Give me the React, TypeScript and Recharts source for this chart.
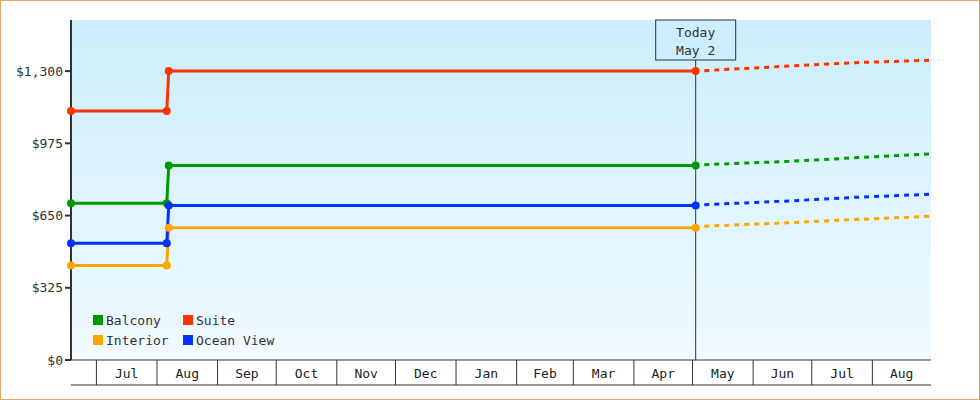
import React from 'react';
import { LineChart, Line, XAxis, YAxis, CartesianGrid, ReferenceLine, Legend } from 'recharts';

const FONT = '"DejaVu Sans Mono", monospace';

// Days are counted from Jul 1 (day 0); the chart runs from Jun 18 to Aug 31 of next year.
const domainDays = [-13, 427];

// Booked prices (solid lines)
const priceDays = [-13, 36, 37, 306.6];
const balconyPrices = [705, 705, 875, 875];
const suitePrices = [1120, 1120, 1300, 1300];
const interiorPrices = [425, 425, 595, 595];
const oceanViewPrices = [525, 525, 695, 695];

// Forecast prices (dashed lines)
const forecastDays = [311, 355, 388, 427];
const balconyForecast = [879, 894, 910, 927];
const suiteForecast = [1302, 1323, 1338, 1349];
const interiorForecast = [602, 618, 632, 647];
const oceanViewForecast = [699, 716, 732, 746];

// Month bands
const monthStarts = [0, 31, 62, 92, 123, 153, 184, 215, 244, 275, 305, 336, 366, 397];
const monthLabels = ['Jul', 'Aug', 'Sep', 'Oct', 'Nov', 'Dec', 'Jan', 'Feb', 'Mar', 'Apr', 'May', 'Jun', 'Jul', 'Aug'];

const todayDay = 306.6;
const todayLines = ['Today', 'May 2'];

const yTicks = [0, 325, 650, 975, 1300];
const yMax = 1530;

const seriesNames = ['Balcony', 'Suite', 'Interior', 'Ocean View'];
const seriesColors = ['#009900', '#ff3300', '#ffa500', '#0033ff'];
const seriesPrices = [balconyPrices, suitePrices, interiorPrices, oceanViewPrices];
const seriesForecasts = [balconyForecast, suiteForecast, interiorForecast, oceanViewForecast];

const monthMids = monthStarts.map((s, i) => (s + (i + 1 < monthStarts.length ? monthStarts[i + 1] : domainDays[1])) / 2);
const axisTicks = [...monthStarts, ...monthMids].sort((a, b) => a - b);

const series = seriesNames.map((name, i) => ({
  name,
  color: seriesColors[i],
  actual: priceDays.map((d, j) => ({ day: d, value: seriesPrices[i][j] })),
  forecast: forecastDays.map((d, j) => ({ day: d, value: seriesForecasts[i][j] })),
}));

const BAND_HEIGHT = 25;

const MonthTick = (props: any) => {
  const { x, y, payload } = props;
  const v = payload.value;
  if (monthStarts.includes(v)) {
    return <line x1={x} y1={y} x2={x} y2={y + BAND_HEIGHT} stroke="#333" strokeWidth={1} />;
  }
  const idx = monthMids.indexOf(v);
  return (
    <text x={x} y={y + 13} textAnchor="middle" dominantBaseline="central" fontFamily={FONT} fontSize={13} fill="#222">
      {idx >= 0 ? monthLabels[idx] : ''}
    </text>
  );
};

const TodayLabel = (props: any) => {
  const vb = props.viewBox || {};
  const x = vb.x ?? 0;
  const y0 = vb.y ?? 0;
  const top = Math.min(y0, y0 + (vb.height ?? 0));
  return (
    <g>
      <rect x={x - 40} y={top} width={80} height={40} fill="#cdeefc" stroke="#333" strokeWidth={1} />
      <text x={x} y={top + 12} textAnchor="middle" dominantBaseline="central" fontFamily={FONT} fontSize={13} fill="#333">
        {todayLines[0]}
      </text>
      <text x={x} y={top + 30} textAnchor="middle" dominantBaseline="central" fontFamily={FONT} fontSize={13} fill="#333">
        {todayLines[1]}
      </text>
    </g>
  );
};

const renderLegend = (props: any) => {
  const payload = (props.payload || []).filter((p: any) => seriesNames.includes(p.value));
  const ordered = seriesNames.map((n) => payload.find((p: any) => p.value === n)).filter(Boolean);
  return (
    <div style={{ position: 'relative', width: 200, height: 40, fontFamily: FONT, fontSize: 13 }}>
      {ordered.map((p: any, i: number) => (
        <div
          key={p.value}
          style={{
            position: 'absolute',
            left: (i % 2) * 90,
            top: Math.floor(i / 2) * 20,
            height: 16,
            display: 'flex',
            alignItems: 'center',
            whiteSpace: 'nowrap',
            color: '#333',
          }}
        >
          <span style={{ display: 'inline-block', width: 10, height: 10, background: p.color, marginRight: 3 }} />
          {p.value}
        </div>
      ))}
    </div>
  );
};

export default function App() {
  return (
    <div
      style={{
        position: 'absolute',
        left: 0,
        top: 0,
        width: 980,
        height: 400,
        boxSizing: 'border-box',
        border: '1px solid #e6a865',
        background: '#fff',
      }}
    >
      <LineChart width={978} height={398} margin={{ top: 19, right: 48, bottom: 0, left: 0 }}>
        <defs>
          <linearGradient id="plotBg" x1="0" y1="0" x2="0" y2="1">
            <stop offset="0%" stopColor="#cbeefc" />
            <stop offset="100%" stopColor="#f1faff" />
          </linearGradient>
        </defs>
        <CartesianGrid xAxisId="a" horizontal={false} vertical={false} fill="url(#plotBg)" />
        <XAxis
          xAxisId="b"
          type="number"
          dataKey="day"
          domain={domainDays}
          ticks={[]}
          tick={false}
          tickLine={false}
          axisLine={{ stroke: '#333', strokeWidth: 1 }}
          height={14}
        />
        <XAxis
          xAxisId="a"
          type="number"
          dataKey="day"
          domain={domainDays}
          ticks={axisTicks}
          interval={0}
          tick={<MonthTick />}
          tickSize={0}
          tickMargin={0}
          tickLine={false}
          axisLine={{ stroke: '#333', strokeWidth: 1 }}
          height={BAND_HEIGHT}
        />
        <YAxis
          type="number"
          domain={[0, yMax]}
          ticks={yTicks}
          interval={0}
          width={70}
          tickSize={6}
          tickMargin={2}
          axisLine={{ stroke: '#333', strokeWidth: 2 }}
          tickLine={{ stroke: '#333', strokeWidth: 2 }}
          tick={{ fontFamily: FONT, fontSize: 13, fill: '#333' }}
          tickFormatter={(v: number) => `$${v.toLocaleString('en-US')}`}
        />
        <ReferenceLine xAxisId="a" x={todayDay} stroke="#333" strokeWidth={1} label={<TodayLabel />} />
        {series.map((s) => (
          <Line
            key={s.name + '-f'}
            xAxisId="a"
            data={s.forecast}
            dataKey="value"
            name={s.name + ' forecast'}
            type="linear"
            stroke={s.color}
            strokeWidth={3}
            strokeDasharray="5 5"
            dot={false}
            activeDot={false}
            legendType="none"
            isAnimationActive={false}
          />
        ))}
        {series.map((s) => (
          <Line
            key={s.name}
            xAxisId="a"
            data={s.actual}
            dataKey="value"
            name={s.name}
            type="linear"
            stroke={s.color}
            strokeWidth={3}
            dot={{ r: 4, fill: s.color, stroke: s.color, strokeWidth: 0 }}
            activeDot={false}
            isAnimationActive={false}
          />
        ))}
        <Legend
          content={renderLegend}
          layout="horizontal"
          verticalAlign="middle"
          align="center"
          wrapperStyle={{ left: 92, top: 311, width: 200, height: 40 }}
        />
      </LineChart>
    </div>
  );
}
